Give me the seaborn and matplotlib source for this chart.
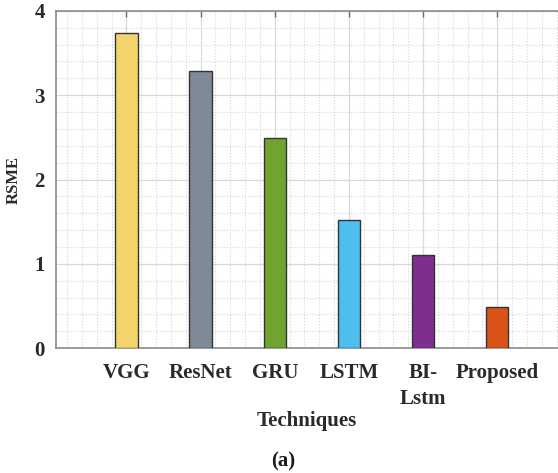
import matplotlib
matplotlib.use("Agg")
import matplotlib.pyplot as plt
from matplotlib.ticker import MultipleLocator
import pandas as pd
import seaborn as sns

techniques = ["VGG", "ResNet", "GRU", "LSTM", "BI-\nLstm", "Proposed"]
rsme = [3.74, 3.29, 2.49, 1.52, 1.10, 0.49]
colors = ["#F3D46A", "#7E8B97", "#6FA52F", "#4DBEEE", "#7E2F8E", "#D95319"]

df = pd.DataFrame({"Technique": techniques, "RSME": rsme})

sns.set_style("white")
plt.rcParams["font.family"] = ["Liberation Serif", "DejaVu Serif"]
plt.rcParams["font.weight"] = "bold"

fig = plt.figure(figsize=(5.58, 4.73), dpi=100)
ax = fig.add_axes([0.1004, 0.264, 0.8996, 0.713])

sns.barplot(data=df, x="Technique", y="RSME", hue="Technique", order=techniques,
            palette=colors, saturation=1, legend=False, width=0.3,
            edgecolor="#333333", linewidth=1.0, ax=ax, zorder=3)

ax.set_xlim(-0.95, 5.82)
ax.set_ylim(0, 4)
ax.yaxis.set_major_locator(MultipleLocator(1))
ax.yaxis.set_minor_locator(MultipleLocator(0.2))
ax.xaxis.set_minor_locator(MultipleLocator(0.2))

ax.grid(which="major", color="#d9d9d9", linewidth=0.9, zorder=0)
ax.grid(which="minor", color="#d6d6d6", linewidth=0.8, linestyle=":", zorder=0)
ax.set_axisbelow(True)

for s in ["left", "top", "bottom"]:
    ax.spines[s].set_color("#8a8a8a")
    ax.spines[s].set_linewidth(1.2)
ax.spines["right"].set_visible(False)

ax.tick_params(axis="both", which="major", direction="in", length=4, width=1,
               color="#666666", labelsize=15, labelcolor="#2a2a2a", top=True)
ax.tick_params(axis="x", which="major", pad=11)
ax.tick_params(axis="y", which="major", pad=8)
ax.tick_params(which="minor", length=0)
for lbl in ax.get_xticklabels() + ax.get_yticklabels():
    lbl.set_fontweight("bold")
for lbl in ax.get_xticklabels():
    lbl.set_verticalalignment("top")
    lbl.set_multialignment("center")
    lbl.set_linespacing(1.35)

ax.set_ylabel("RSME", fontsize=12, fontweight="bold", color="#2a2a2a", labelpad=9)
ax.set_xlabel("Techniques", fontsize=15, fontweight="bold", color="#2a2a2a", labelpad=2)

fig.text(0.507, 0.004, "(a)", fontsize=15, fontweight="bold", ha="center", va="bottom",
         color="#1a1a1a")

fig.savefig("out.png", dpi=100)
